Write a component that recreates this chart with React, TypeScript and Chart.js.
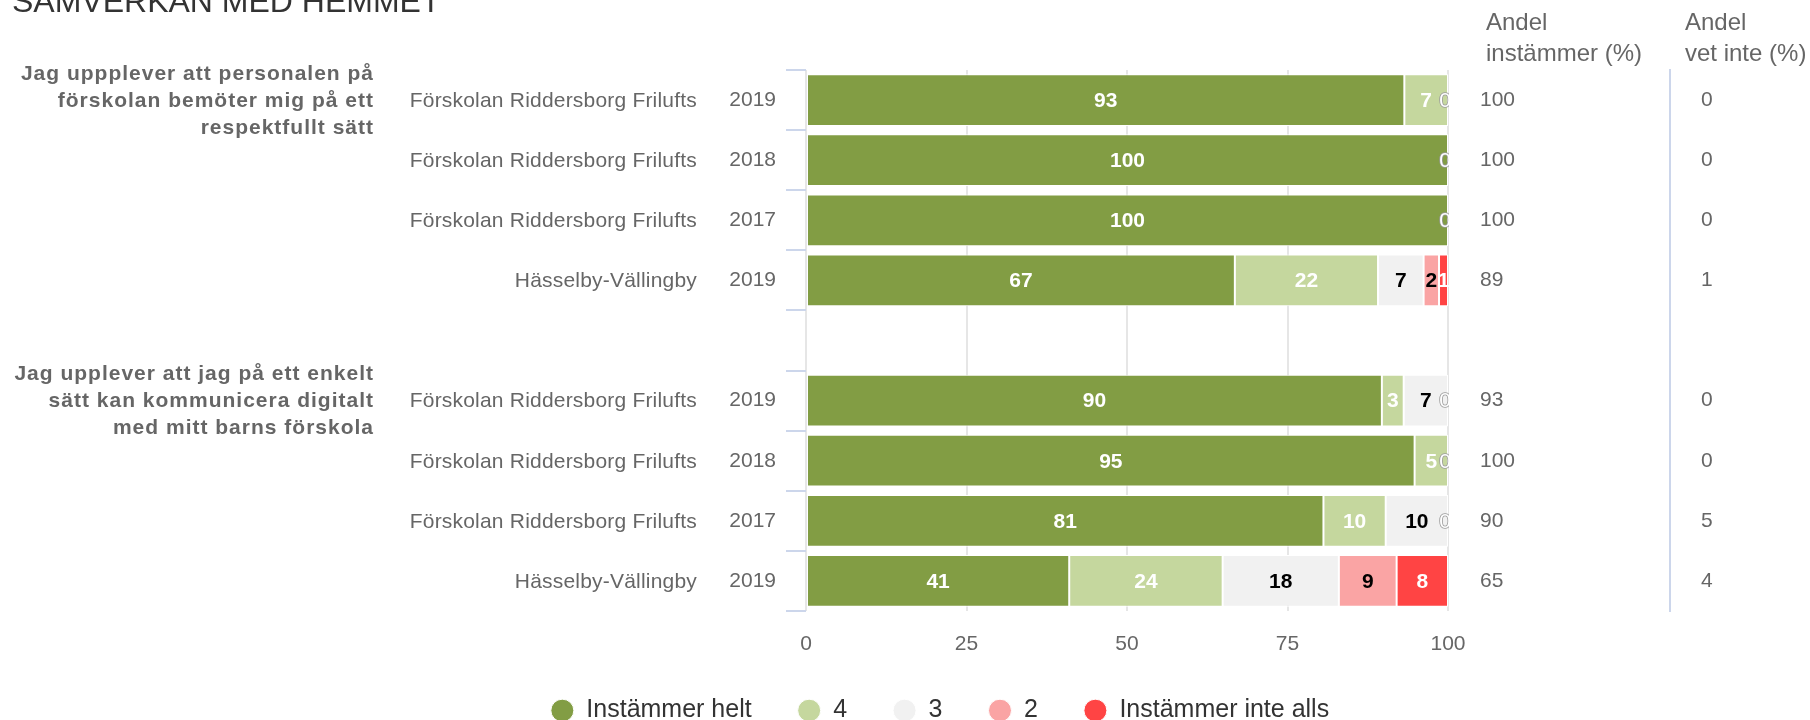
import React, { useEffect, useRef } from 'react';
import { Chart, registerables } from 'chart.js';

Chart.register(...registerables);

const FONT = '"Liberation Sans", Arial, Helvetica, sans-serif';

const chartTitle = 'SAMVERKAN MED HEMMET';
const schoolNames = [
  'Förskolan Riddersborg Frilufts',
  'Förskolan Riddersborg Frilufts',
  'Förskolan Riddersborg Frilufts',
  'Hässelby-Vällingby',
  '',
  'Förskolan Riddersborg Frilufts',
  'Förskolan Riddersborg Frilufts',
  'Förskolan Riddersborg Frilufts',
  'Hässelby-Vällingby',
];
const years = ['2019', '2018', '2017', '2019', '', '2019', '2018', '2017', '2019'];
const question1 = ['Jag uppplever att personalen på', 'förskolan bemöter mig på ett', 'respektfullt sätt'];
const question2 = ['Jag upplever att jag på ett enkelt', 'sätt kan kommunicera digitalt', 'med mitt barns förskola'];
const questionStartRows = [0, 5];

const seriesNames = ['Instämmer helt', '4', '3', '2', 'Instämmer inte alls'];
const seriesColors = ['#829D44', '#C5D79E', '#F1F1F1', '#FAA4A4', '#FF4444'];
const labelColors = ['#FFFFFF', '#FFFFFF', '#000000', '#000000', '#FFFFFF'];

const instammerHelt = [93.2, 100, 100, 66.8, null, 89.7, 94.8, 80.6, 41.0];
const value4 = [6.8, 0, 0, 22.3, null, 3.4, 5.2, 9.7, 23.9];
const value3 = [0, 0, 0, 7.1, null, 6.9, 0, 9.7, 18.1];
const value2 = [0, 0, 0, 2.4, null, 0, 0, 0, 9.0];
const instammerInteAlls = [0, 0, 0, 1.4, null, 0, 0, 0, 8.0];

const andelInstammer = ['100', '100', '100', '89', '', '93', '100', '90', '65'];
const andelVetInte = ['0', '0', '0', '1', '', '0', '0', '5', '4'];
const columnHeaders = [['Andel', 'instämmer (%)'], ['Andel', 'vet inte (%)']];
const xTickValues = [0, 25, 50, 75, 100];

const seriesData = [instammerHelt, value4, value3, value2, instammerInteAlls];

function txt(ctx: any, s: string, x: number, y: number, font: string, color: string, align: string, spacing: string, baseline = 'middle') {
  ctx.font = font;
  ctx.fillStyle = color;
  ctx.textAlign = align;
  ctx.textBaseline = baseline;
  ctx.letterSpacing = spacing;
  ctx.fillText(s, x, y);
}

const overlayPlugin = {
  id: 'overlay',
  beforeLayout(chart: any) {
    chart.ctx.letterSpacing = '0px';
  },
  beforeDraw(chart: any) {
    chart.ctx.letterSpacing = '0px';
  },
  afterDatasetsDraw(chart: any) {
    const { ctx, chartArea } = chart;
    ctx.save();
    ctx.beginPath();
    ctx.rect(chartArea.left, chartArea.top - 5, chartArea.right - chartArea.left + 1, chartArea.bottom - chartArea.top + 10);
    ctx.clip();
    chart.data.datasets.forEach((ds: any, i: number) => {
      const meta = chart.getDatasetMeta(i);
      meta.data.forEach((bar: any, j: number) => {
        const v = ds.data[j];
        if (v == null || v <= 0) return;
        const p = bar.getProps(['x', 'y', 'base'], true);
        txt(ctx, String(Math.round(v)), (p.x + p.base) / 2, p.y + 1, `bold 21px ${FONT}`, labelColors[i], 'center', '0px');
      });
    });
    const xs = chart.scales.x;
    const ys = chart.scales.y;
    for (let j = 0; j < years.length; j++) {
      if (!years[j]) continue;
      if (!seriesData.some((s) => s[j] === 0)) continue;
      const y = ys.getPixelForValue(j) + 1;
      const x = xs.getPixelForValue(100) - 3;
      ctx.font = `21px ${FONT}`;
      ctx.textAlign = 'center';
      ctx.textBaseline = 'middle';
      ctx.letterSpacing = '0px';
      ctx.lineWidth = 1.6;
      ctx.strokeStyle = '#9a9a9a';
      ctx.strokeText('0', x, y);
      ctx.fillStyle = '#FFFFFF';
      ctx.fillText('0', x, y);
    }
    ctx.restore();
  },
  afterDraw(chart: any) {
    const { ctx, chartArea } = chart;
    const ys = chart.scales.y;
    ctx.save();
    // title
    txt(ctx, chartTitle, 12, 11.5, `32px ${FONT}`, '#333333', 'left', '0px', 'alphabetic');
    // school names
    for (let j = 0; j < schoolNames.length; j++) {
      if (!schoolNames[j]) continue;
      txt(ctx, schoolNames[j], chartArea.left - 109, ys.getPixelForValue(j) + 1, `21px ${FONT}`, '#666666', 'right', '0.2px');
    }
    // questions
    [question1, question2].forEach((lines, qi) => {
      const cy = ys.getPixelForValue(questionStartRows[qi]) + 1;
      lines.forEach((line, li) => {
        txt(ctx, line, 374, cy + (li - 1) * 27, `bold 21px ${FONT}`, '#666666', 'right', '1px');
      });
    });
    // column headers
    const y2 = chart.scales.y2;
    const y3 = chart.scales.y3;
    const hx = [y2.left + 38, y3.left + 15];
    columnHeaders.forEach((lines, ci) => {
      lines.forEach((line, li) => {
        txt(ctx, line, hx[ci], 23.5 + li * 31, `24px ${FONT}`, '#666666', 'left', '0px');
      });
    });
    ctx.restore();
  },
};

export default function App() {
  const ref = useRef<HTMLCanvasElement>(null);
  useEffect(() => {
    const chart = new Chart(ref.current as HTMLCanvasElement, {
      type: 'bar',
      data: {
        labels: years,
        datasets: seriesNames.map((name, i) => ({
          label: name,
          data: seriesData[i] as any,
          backgroundColor: seriesColors[i],
          borderColor: '#FFFFFF',
          borderWidth: 1,
          borderSkipped: false,
          barPercentage: 0.86,
          categoryPercentage: 1,
        })),
      },
      options: {
        indexAxis: 'y',
        animation: false,
        responsive: true,
        maintainAspectRatio: false,
        events: [],
        layout: { padding: { top: 70, left: 70, right: 0, bottom: 0 } },
        plugins: {
          tooltip: { enabled: false },
          legend: {
            position: 'bottom',
            maxHeight: 68,
            labels: {
              usePointStyle: true,
              pointStyle: 'circle',
              pointStyleWidth: 23,
              boxHeight: 16,
              padding: 46,
              color: '#333333',
              font: { family: FONT, size: 25 },
            },
          },
        },
        scales: {
          x: {
            type: 'linear',
            stacked: true,
            min: 0,
            max: 100,
            afterBuildTicks: (s: any) => {
              s.ticks = xTickValues.map((v) => ({ value: v }));
            },
            afterFit: (s: any) => {
              s.height = 41;
            },
            grid: { color: '#E6E6E6', lineWidth: 2, drawTicks: false },
            border: { display: false },
            ticks: { color: '#666666', padding: 21, font: { family: FONT, size: 21 } },
          },
          y: {
            type: 'category',
            stacked: true,
            position: 'left',
            afterFit: (s: any) => {
              s.width = 736;
            },
            grid: { drawOnChartArea: false, offset: true, color: '#CCD6EB', lineWidth: 2, tickLength: 20, drawTicks: true },
            border: { display: false },
            ticks: { color: '#666666', padding: 10, font: { family: FONT, size: 21 } },
          },
          y2: {
            type: 'category',
            position: 'right',
            weight: 0,
            offset: true,
            labels: andelInstammer,
            afterFit: (s: any) => {
              s.width = 222;
            },
            grid: { display: false, drawTicks: false },
            border: { display: false },
            ticks: { color: '#666666', padding: 32, font: { family: FONT, size: 21 } },
          },
          y3: {
            type: 'category',
            position: 'right',
            weight: 1,
            offset: true,
            labels: andelVetInte,
            afterFit: (s: any) => {
              s.width = 140;
            },
            grid: { display: false, drawTicks: false },
            border: { display: true, color: '#CCD6EB', width: 2 },
            ticks: { color: '#666666', padding: 31, font: { family: FONT, size: 21 } },
          },
        },
      },
      plugins: [overlayPlugin],
    } as any);
    return () => chart.destroy();
  }, []);
  return (
    <div style={{ position: 'fixed', left: 0, top: 0, width: 1810, height: 720, background: '#FFFFFF' }}>
      <canvas ref={ref} />
    </div>
  );
}
